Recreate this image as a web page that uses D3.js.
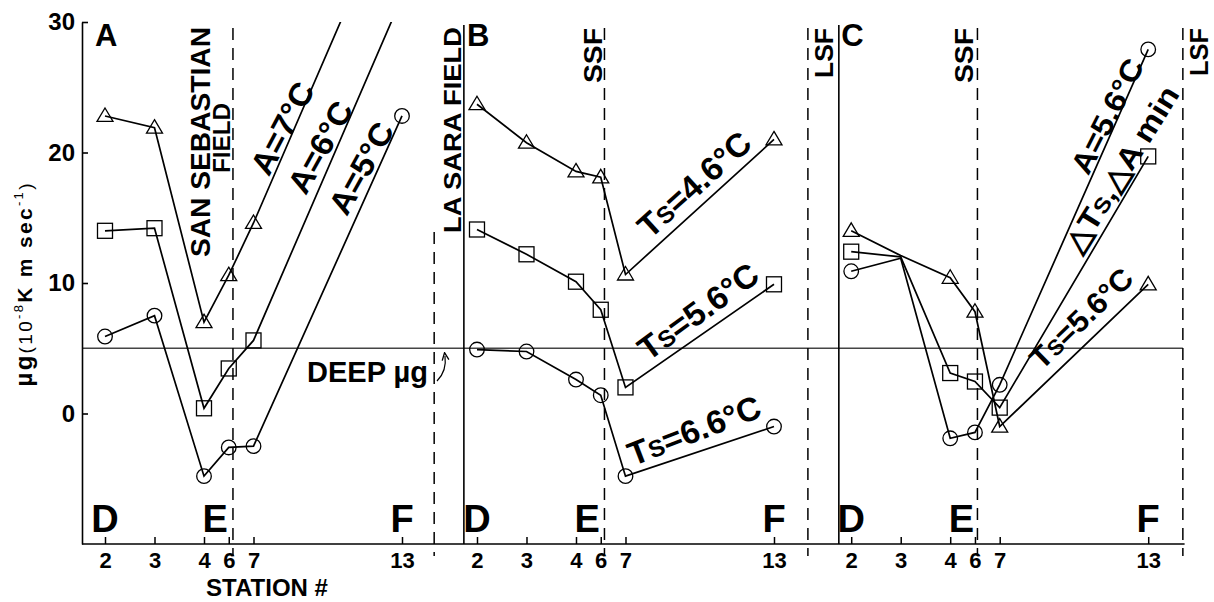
<!DOCTYPE html>
<html><head><meta charset="utf-8">
<script src="https://cdn.jsdelivr.net/npm/d3@7"></script>
<style>
body{margin:0;background:#fff}
svg{display:block}
text{font-family:"Liberation Sans",Arial,Helvetica,sans-serif;fill:#000}
</style>
</head><body>
<svg id="c" width="1214" height="602"></svg>
<script>
// ---------- DATA ----------
const stations = ["2","3","4","6","7","13"];
const stationDist = [0, 2, 4, 5, 6, 12];          // relative distance along the transect
const yTicks = [0, 10, 20, 30];
const deepMu = 5;

// Panel A (triangle = A 7°C, square = A 6°C, circle = A 5°C)
const aTri  = [22.8, 21.9, 7.0, 10.6, 14.6, 40.9];
const aSq   = [14.0, 14.2, 0.4, 3.45, 5.6, 31.9];
const aCirc = [5.9, 7.5, -4.8, -2.6, -2.5, 22.8];
// Panel B (Ts = 4.6, 5.6, 6.6 °C)
const bTri  = [23.7, 20.75, 18.55, 18.1, 10.65, 21.0];
const bSq   = [14.1, 12.2, 10.1, 7.95, 2.0, 9.9];
const bCirc = [4.9, 4.75, 2.6, 1.4, -4.8, -1.0];
// Panel C
const cTri  = [14.0, 12.1, 10.4, 7.8, -1.0, 9.9];
const cSq   = [12.4, 12.0, 3.1, 2.45, 0.45, 19.7];
const cCirc = [10.9, 11.9, -1.9, -1.45, 2.2, 27.9];
const cHidden = ["3"];   // stations drawn without marker in panel C

const panelNames = ["A","B","C"];

// ---------- LAYOUT ----------
const W = 1214, H = 602;
const panelOffset = [0, 15.03, 30.15];
const x = d3.scaleLinear().domain([0, 12]).range([105, 402]);
const y = d3.scaleLinear().domain([-10, 30]).range([544, 22]);
const dashedAt = [{u:5.17, top:28},{u:13.3, top:232},{u:20.18, top:28},{u:28.4, top:28},{u:35.25, top:28},{u:43.55, top:28}];
const solidAt = [14.5, 29.65];

const panels = [
  {name:panelNames[0], off:panelOffset[0], series:[aTri,aSq,aCirc], hidden:[]},
  {name:panelNames[1], off:panelOffset[1], series:[bTri,bSq,bCirc], hidden:[]},
  {name:panelNames[2], off:panelOffset[2], series:[cTri,cSq,cCirc], hidden:cHidden}
];
const shapes = ["tri","sq","circ"];

const svg = d3.select("#c");
svg.append("rect").attr("width",W).attr("height",H).attr("fill","#fff");
const defs = svg.append("defs");
defs.append("clipPath").attr("id","clip").append("rect")
  .attr("x",0).attr("y",y(30)).attr("width",W).attr("height",y(-10)-y(30));
defs.append("marker").attr("id","ah").attr("viewBox","0 0 10 10").attr("refX",5).attr("refY",5)
  .attr("markerWidth",7).attr("markerHeight",7).attr("orient","auto")
  .append("path").attr("d","M0,1 L9,5 L0,9").attr("fill","none").attr("stroke","#000").attr("stroke-width",1.6);

const FONT = '"Liberation Sans",Arial,Helvetica,sans-serif';

// deep mu line
svg.append("line").attr("x1",82).attr("x2",x(43.55)).attr("y1",y(deepMu)).attr("y2",y(deepMu))
  .attr("stroke","#444").attr("stroke-width",1.6);

// solid panel separators
solidAt.forEach(u=>{
  svg.append("line").attr("x1",x(u)).attr("x2",x(u)).attr("y1",25).attr("y2",y(-10))
    .attr("stroke","#000").attr("stroke-width",1.6);
});
// dashed boundaries
dashedAt.forEach(d=>{
  svg.append("line").attr("x1",x(d.u)).attr("x2",x(d.u)).attr("y1",d.top).attr("y2",556)
    .attr("stroke","#000").attr("stroke-width",1.5).attr("stroke-dasharray","12,8");
});

// Y axis
const yAx = svg.append("g").attr("transform","translate(82,0)")
  .call(d3.axisLeft(y).tickValues(yTicks).tickSizeInner(-6).tickSizeOuter(0).tickPadding(7));
yAx.attr("font-family",FONT).attr("font-size",24).attr("font-weight","bold");
yAx.selectAll("path,line").attr("stroke","#000").attr("stroke-width",1.6);

// bottom axis line
svg.append("line").attr("x1",82).attr("x2",x(43.62)).attr("y1",y(-10)).attr("y2",y(-10))
  .attr("stroke","#000").attr("stroke-width",1.6);

const line = d3.line();

panels.forEach(p=>{
  const xa = svg.append("g").attr("transform",`translate(0,${y(-10)})`)
    .call(d3.axisBottom(x).tickValues(stationDist.map(d=>d+p.off))
      .tickFormat((d,i)=>stations[i]).tickSizeInner(-7).tickSizeOuter(0).tickPadding(8));
  xa.select(".domain").remove();
  xa.attr("font-family",FONT).attr("font-size",22).attr("font-weight","bold");
  xa.selectAll("line").attr("stroke","#000").attr("stroke-width",1.5);

  const g = svg.append("g").attr("clip-path","url(#clip)");
  p.series.forEach((vals,si)=>{
    const pts = vals.map((v,i)=>[x(p.off+stationDist[i]), y(v)]);
    g.append("path").attr("d",line(pts)).attr("fill","none").attr("stroke","#000").attr("stroke-width",1.7);
    pts.forEach((pt,i)=>{
      if (p.hidden.includes(stations[i])) return;
      const [cx,cy] = pt;
      const s = shapes[si];
      if (s==="circ") g.append("circle").attr("cx",cx).attr("cy",cy).attr("r",7.3)
        .attr("fill","none").attr("stroke","#000").attr("stroke-width",1.3);
      else if (s==="sq") g.append("rect").attr("x",cx-7.5).attr("y",cy-7.5).attr("width",15).attr("height",15)
        .attr("fill","none").attr("stroke","#000").attr("stroke-width",1.3);
      else g.append("path").attr("d",`M${cx},${cy-8} L${cx+8},${cy+5.5} L${cx-8},${cy+5.5} Z`)
        .attr("fill","none").attr("stroke","#000").attr("stroke-width",1.3);
    });
  });

  // panel letters
  svg.append("text").attr("x",x(p.off)-10).attr("y",46).attr("font-size",31).attr("font-weight","bold").text(p.name);
  [["D",0],["E",4.45],["F",12]].forEach(([t,u])=>{
    svg.append("text").attr("x",x(p.off+u)).attr("y",532).attr("text-anchor","middle")
      .attr("font-size",38).attr("font-weight","bold").text(t);
  });
});

// vertical labels
function vtext(t, bx, by, size, len, weight){
  svg.append("text").attr("transform",`translate(${bx},${by}) rotate(-90)`)
    .attr("font-size",size).attr("font-weight",weight||"bold")
    .attr("textLength",len).attr("lengthAdjust","spacingAndGlyphs").text(t);
}
vtext("SAN SEBASTIAN",210,257,28,230,"bold");
vtext("FIELD",230,173,24,70,"bold");
vtext("LA SARA FIELD",461,233,24,206,"bold");
vtext("SSF",602,83,26,55,"bold");
vtext("SSF",973,83,26,55,"bold");
vtext("LSF",833,78,26,50,"bold");
vtext("LSF",1208,76,26,48,"bold");

// sloped annotations
function ann(parts, cx, cy, ang, size, len){
  const t = svg.append("text").attr("transform",`translate(${cx},${cy}) rotate(${ang})`)
    .attr("text-anchor","middle").attr("dy","0.36em").attr("font-size",size).attr("font-weight","bold");
  if (len) t.attr("textLength",len).attr("lengthAdjust","spacingAndGlyphs");
  parts.forEach(pp=>{
    const ts = t.append("tspan").text(pp.t);
    if (pp.s) ts.attr("font-size",size*pp.s);
  });
}
ann([{t:"A=7°C"}],282,128,-62,32,100);
ann([{t:"A=6°C"}],320,147,-61,32,100);
ann([{t:"A=5°C"}],361,168,-61,32,100);
ann([{t:"T"},{t:"S",s:0.72},{t:"=4.6°C"}],694,184,-42,33,140);
ann([{t:"T"},{t:"S",s:0.72},{t:"=5.6°C"}],698,311,-36,33,140);
ann([{t:"T"},{t:"S",s:0.72},{t:"=6.6°C"}],694,430,-21,33,140);
ann([{t:"A=5.6°C"}],1107,116,-63,30,125);
ann([{t:"△T"},{t:"S",s:0.72},{t:",△A min"}],1121,169,-58,30,190);
ann([{t:"T"},{t:"S",s:0.72},{t:"=5.6°C"}],1081,318,-44,30,130);

// DEEP mu label + arrow
svg.append("text").attr("x",307).attr("y",382).attr("font-size",29).attr("font-weight","bold").text("DEEP µg");
svg.append("path").attr("d","M437,381 Q447,371 445,356").attr("fill","none").attr("stroke","#000")
  .attr("stroke-width",1.2).attr("marker-end","url(#ah)");

// Y axis title
const yt = svg.append("text").attr("transform","translate(32,285) rotate(-90)").attr("text-anchor","middle")
  .attr("textLength",203).attr("lengthAdjust","spacing");
yt.append("tspan").attr("font-size",24).attr("font-weight","bold").text("µg");
yt.append("tspan").attr("font-size",19).text("(10");
yt.append("tspan").attr("font-size",13).attr("dy",-9).text("-8");
yt.append("tspan").attr("font-size",21).attr("font-weight","bold").attr("dy",9).text("K m sec");
yt.append("tspan").attr("font-size",13).attr("dy",-9).text("-1");
yt.append("tspan").attr("font-size",19).attr("dy",9).text(")");

// X axis title
svg.append("text").attr("x",267).attr("y",596).attr("text-anchor","middle")
  .attr("font-size",24).attr("font-weight","bold").text("STATION #");
</script>
</body></html>
